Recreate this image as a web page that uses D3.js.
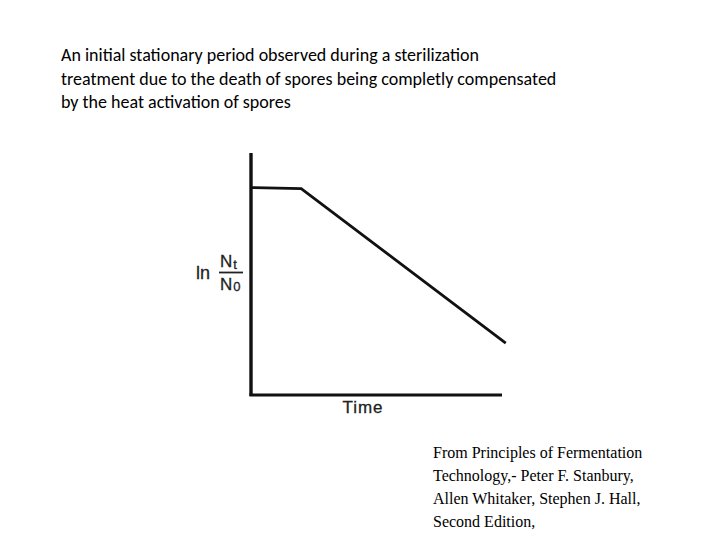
<!DOCTYPE html>
<html>
<head>
<meta charset="utf-8">
<script src="https://cdn.jsdelivr.net/npm/d3@7"></script>
<style>
  html, body { margin: 0; padding: 0; background: #fff; }
  svg { display: block; }
</style>
</head>
<body>
<svg id="chart" width="720" height="540"></svg>
<script>
// ---- data ----
const titleLines = [
  "An initial stationary period observed during a sterilization",
  "treatment due to the death of spores being completly compensated",
  "by the heat activation of spores"
];
const sourceLines = [
  "From Principles of Fermentation",
  "Technology,- Peter F. Stanbury,",
  "Allen Whitaker, Stephen J. Hall,",
  "Second Edition,"
];
const timeValues = [0, 2, 10.15];      // time (arbitrary units)
const lnRatioValues = [0, -0.03, -4.5]; // ln(Nt/N0)
const xDomain = [0, 10];
const yDomain = [-6, 1];
const xLabel = "Time";

// ---- layout ----
const svg = d3.select("#chart");
const x = d3.scaleLinear().domain(xDomain).range([251, 502]);
const y = d3.scaleLinear().domain(yDomain).range([395, 153]);

// title
svg.append("g")
  .selectAll("text").data(titleLines).join("text")
  .attr("x", 61)
  .attr("y", (d, i) => 61 + i * 23.5)
  .attr("font-family", "Carlito, Calibri, 'Liberation Sans', Arial, sans-serif")
  .attr("font-size", 18)
  .attr("fill", "#000")
  .text(d => d);

// source
svg.append("g")
  .selectAll("text").data(sourceLines).join("text")
  .attr("x", 433)
  .attr("y", (d, i) => 458 + i * 23)
  .attr("font-family", "'Liberation Serif', 'Times New Roman', serif")
  .attr("font-size", 16)
  .attr("fill", "#000")
  .text(d => d);

// axes (plain lines, no ticks)
const axisColor = "#111";
svg.append("line")
  .attr("x1", x(xDomain[0])).attr("x2", x(xDomain[0]))
  .attr("y1", y(yDomain[1])).attr("y2", y(yDomain[0]) + 1)
  .attr("stroke", axisColor).attr("stroke-width", 3.4);
svg.append("line")
  .attr("x1", x(xDomain[0]) - 1.5).attr("x2", x(xDomain[1]))
  .attr("y1", y(yDomain[0])).attr("y2", y(yDomain[0]))
  .attr("stroke", axisColor).attr("stroke-width", 2.8);

// curve
const pts = timeValues.map((t, i) => [t, lnRatioValues[i]]);
svg.append("path")
  .datum(pts)
  .attr("d", d3.line().x(d => x(d[0])).y(d => y(d[1])))
  .attr("fill", "none")
  .attr("stroke", "#111")
  .attr("stroke-width", 2.8)
  .attr("stroke-linejoin", "miter");

// x label
svg.append("text")
  .attr("x", 363)
  .attr("y", 413)
  .attr("text-anchor", "middle")
  .attr("font-family", "'Liberation Sans', Arial, sans-serif")
  .attr("font-size", 17)
  .attr("letter-spacing", 1)
  .attr("fill", "#222")
  .attr("stroke", "#222").attr("stroke-width", 0.3)
  .text(xLabel);

// y label: ln Nt/N0
const yl = svg.append("g")
  .attr("font-family", "'Liberation Sans', Arial, sans-serif")
  .attr("fill", "#222")
  .attr("stroke", "#222").attr("stroke-width", 0.3);
yl.append("text").attr("x", 196).attr("y", 279).attr("font-size", 18).text("ln");
const num = yl.append("text").attr("x", 220).attr("y", 267).attr("font-size", 17);
num.append("tspan").text("N");
num.append("tspan").attr("font-size", 13).attr("dx", 1).attr("dy", 2).text("t");
const den = yl.append("text").attr("x", 220).attr("y", 290).attr("font-size", 17);
den.append("tspan").text("N");
den.append("tspan").attr("font-size", 13).attr("dx", 1).attr("dy", 1).text("0");
yl.append("line").attr("x1", 219).attr("x2", 243).attr("y1", 272.5).attr("y2", 272.5)
  .attr("stroke", "#222").attr("stroke-width", 1.8);
</script>
</body>
</html>
